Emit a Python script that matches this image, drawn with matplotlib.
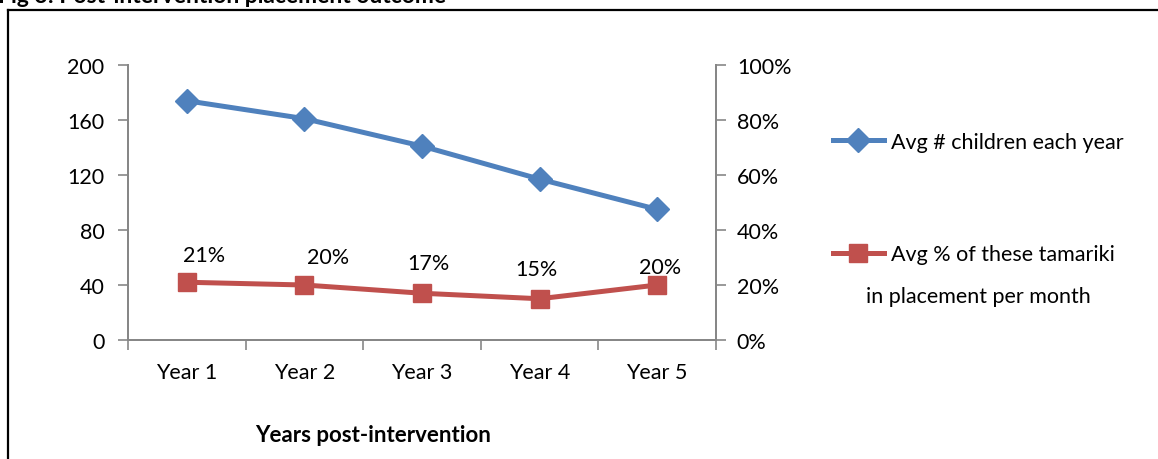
import numpy as np
import matplotlib
matplotlib.use("Agg")
import matplotlib.pyplot as plt
from matplotlib.lines import Line2D

plt.rcParams['font.family'] = ['Lato', 'DejaVu Sans']

years = ["Year 1", "Year 2", "Year 3", "Year 4", "Year 5"]
avg_children = [174, 161, 141, 117, 95]
avg_pct_placement = [0.21, 0.20, 0.17, 0.15, 0.20]
pct_labels = ["21%", "20%", "17%", "15%", "20%"]

left_ticks = [0, 40, 80, 120, 160, 200]
right_ticks = [0, 0.2, 0.4, 0.6, 0.8, 1.0]

# label offsets in pixels (dx, dy) from each red marker
label_offsets = [(17, 27), (24, 28), (6, 30), (-3, 30), (3, 18)]

blue = "#4F81BD"
red = "#C0504D"
grey = "#878787"
fs = 15.5

W, H = 1158, 460
fig = plt.figure(figsize=(W / 100, H / 100), dpi=100)
ax = fig.add_axes([128 / W, 1 - 341 / H, (716 - 128) / W, (341 - 66) / H])
ax2 = ax.twinx()

x = np.arange(len(years))
ln1, = ax.plot(x, avg_children, color=blue, lw=3.6, marker="D", ms=12,
               mfc=blue, mec=blue, label="Avg # children each year")
ln2, = ax2.plot(x, avg_pct_placement, color=red, lw=3.6, marker="s", ms=13,
                mfc=red, mec=red, label="Avg % of these tamariki")

for xi, v, txt, (dx, dy) in zip(x, avg_pct_placement, pct_labels, label_offsets):
    ax2.annotate(txt, (xi, v), xytext=(dx * 0.72, dy * 0.72), textcoords="offset points",
                 ha="center", va="center", fontsize=fs, color="black")

ax.set_xlim(-0.5, len(years) - 0.5)
ax.set_ylim(0, 200)
ax2.set_ylim(0, 1.0)

ax.set_yticks(left_ticks)
ax.set_yticklabels([str(t) for t in left_ticks])
ax2.set_yticks(right_ticks)
ax2.set_yticklabels([f"{int(round(t * 100))}%" for t in right_ticks])

ax.set_xticks(np.arange(-0.5, len(years)), labels=[""] * (len(years) + 1))
ax.set_xticks(x, minor=True)
ax.set_xticklabels(years, minor=True)
ax.tick_params(axis="x", which="major", length=7, width=1.2, color=grey, direction="out")
ax.tick_params(axis="x", which="minor", length=0, pad=16, labelsize=fs)
ax.tick_params(axis="y", length=7, width=1.2, color=grey, labelsize=fs, pad=10)
ax2.tick_params(axis="y", length=7, width=1.2, color=grey, labelsize=fs, pad=8)

for a in (ax, ax2):
    a.spines["top"].set_visible(False)
    for s in ("left", "right", "bottom"):
        a.spines[s].set_color(grey)
        a.spines[s].set_linewidth(1.4)
    a.patch.set_visible(False)

for t in ax2.get_yticklabels():
    t.set_ha("left")

# legend outside at right
leg = fig.legend(handles=[ln1, ln2], loc="upper left",
                 bbox_to_anchor=(824 / W, 1 - 124 / H), frameon=False,
                 fontsize=fs, handlelength=2.4, handletextpad=0.3,
                 labelspacing=4.3, borderaxespad=0)
fig.text(866 / W, 1 - 297 / H, "in placement per month", fontsize=fs,
         ha="left", va="center")

fig.text(373 / W, 1 - 436 / H, "Years post-intervention", fontsize=16,
         fontweight="bold", ha="center", va="center")

# clipped title at top and frame
fig.text(-2 / W, 1 - 3 / H, "Fig 3: Post-intervention placement outcome", fontsize=16.5,
         fontweight="bold", ha="left", va="baseline")
fig.add_artist(Line2D([8 / W, 1.0], [1 - 11 / H, 1 - 11 / H], color="black", lw=1.6,
                      transform=fig.transFigure))
fig.add_artist(Line2D([8 / W, 8 / W], [0, 1 - 11 / H], color="black", lw=1.6,
                      transform=fig.transFigure))

fig.savefig("out.png", dpi=100)
